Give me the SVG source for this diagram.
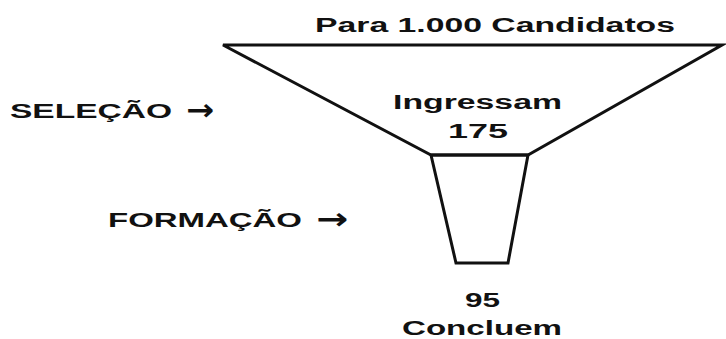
<svg xmlns="http://www.w3.org/2000/svg" width="726" height="339" viewBox="0 0 726 339">
  <style>
    .lbl { font-family: "Liberation Sans", Arial, sans-serif; font-weight: bold; font-size: 20px; fill: #111; }
    .arr { font-family: "DejaVu Sans", sans-serif; font-weight: bold; font-size: 30px; }
    .outline { fill: none; stroke: #111; stroke-width: 3; stroke-linejoin: miter; }
  </style>
  <rect width="726" height="339" fill="#fff"/>

  <!-- upper funnel: selection stage -->
  <g id="selecao-funil">
    <polygon class="outline" points="223,45 722,45 528,155 431,155"/>
    <text class="lbl" x="315" y="32" textLength="360" lengthAdjust="spacingAndGlyphs">Para 1.000 Candidatos</text>
    <text class="lbl" x="393" y="109" textLength="169" lengthAdjust="spacingAndGlyphs">Ingressam</text>
    <text class="lbl" x="448" y="138" textLength="60" lengthAdjust="spacingAndGlyphs">175</text>
  </g>

  <!-- lower funnel: training stage -->
  <g id="formacao-funil">
    <polygon class="outline" points="431,155 528,155 508,263 456,263"/>
    <text class="lbl" x="465" y="307" textLength="35" lengthAdjust="spacingAndGlyphs">95</text>
    <text class="lbl" x="402" y="335" textLength="160" lengthAdjust="spacingAndGlyphs">Concluem</text>
  </g>

  <!-- stage labels -->
  <g id="rotulo-selecao">
    <text class="lbl" y="118"><tspan x="10" textLength="162" lengthAdjust="spacingAndGlyphs">SELEÇÃO</tspan> <tspan class="arr" x="186" y="120" textLength="28" lengthAdjust="spacingAndGlyphs">→</tspan></text>
  </g>
  <g id="rotulo-formacao">
    <text class="lbl" y="227"><tspan x="108" textLength="194" lengthAdjust="spacingAndGlyphs">FORMAÇÃO</tspan> <tspan class="arr" x="316" y="229" textLength="32" lengthAdjust="spacingAndGlyphs">→</tspan></text>
  </g>

  <g id="connectors"/>
</svg>
